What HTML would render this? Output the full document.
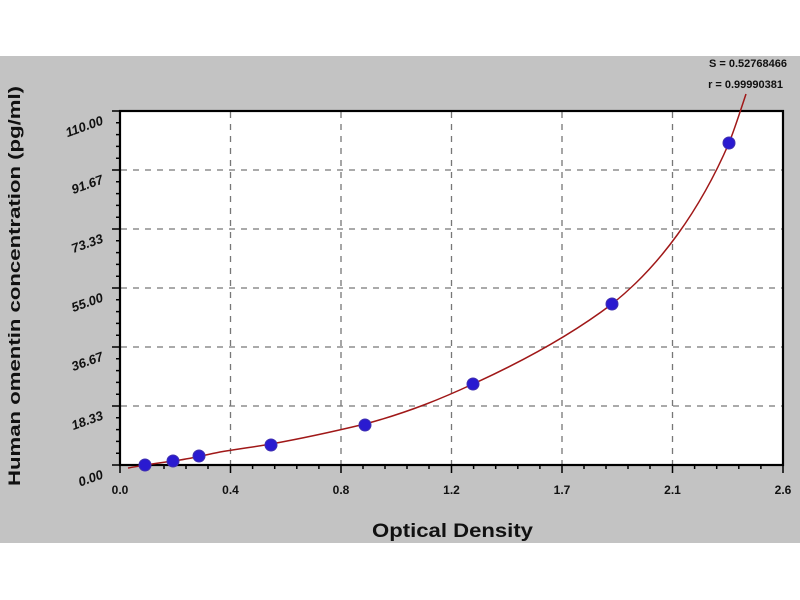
<!DOCTYPE html>
<html><head><style>
body{margin:0;background:#fff;}
svg{display:block;}
text{font-family:"Liberation Sans",sans-serif;font-weight:bold;fill:#111;}
</style></head><body>
<svg width="800" height="600" viewBox="0 0 800 600">
<rect x="0" y="0" width="800" height="600" fill="#fff"/>
<rect x="0" y="56" width="800" height="487" fill="#c3c3c3"/>
<rect x="120" y="111" width="663" height="354" fill="#fff"/>
<g stroke="#777" stroke-width="1.3" stroke-dasharray="6,6">
<line x1="230.5" y1="112" x2="230.5" y2="464"/>
<line x1="341" y1="112" x2="341" y2="464"/>
<line x1="451.5" y1="112" x2="451.5" y2="464"/>
<line x1="562" y1="112" x2="562" y2="464"/>
<line x1="672.5" y1="112" x2="672.5" y2="464"/>
<line x1="121" y1="170" x2="782" y2="170"/>
<line x1="121" y1="229" x2="782" y2="229"/>
<line x1="121" y1="288" x2="782" y2="288"/>
<line x1="121" y1="347" x2="782" y2="347"/>
<line x1="121" y1="406" x2="782" y2="406"/>
</g>
<g stroke="#000" stroke-width="1.5">
<path d="M112 111H120M116 122.8H120M116 134.6H120M116 146.4H120M116 158.2H120M112 170H120M116 181.8H120M116 193.6H120M116 205.4H120M116 217.2H120M112 229H120M116 240.8H120M116 252.6H120M116 264.4H120M116 276.2H120M112 288H120M116 299.8H120M116 311.6H120M116 323.4H120M116 335.2H120M112 347H120M116 358.8H120M116 370.6H120M116 382.4H120M116 394.2H120M112 406H120M116 417.8H120M116 429.6H120M116 441.4H120M116 453.2H120M112 465H120"/>
<path d="M120 465V473M142 465V469M164 465V469M186 465V469M208 465V469M230.5 465V473M252.6 465V469M274.7 465V469M296.8 465V469M318.9 465V469M341 465V473M363 465V469M385 465V469M407 465V469M429 465V469M451.5 465V473M473.6 465V469M495.7 465V469M517.8 465V469M539.9 465V469M562 465V473M584 465V469M606 465V469M628 465V469M650 465V469M672.5 465V473M694.6 465V469M716.7 465V469M738.8 465V469M760.9 465V469M783 465V473"/>
</g>
<rect x="120" y="111" width="663" height="354" fill="none" stroke="#000" stroke-width="2.2"/>
<path d="M128 468 C140 466 150 464 173 461 C190 459 200 456 220 452 C245 448 260 446 271 444 C310 437 340 430 365 424 C410 412 445 397 473 384 C530 358 575 332 612 304 C660 266 700 210 729 143 C735 128 740 112 746 94" fill="none" stroke="#a01818" stroke-width="1.5"/>
<g fill="#2a1ad0" stroke="#4030b0" stroke-width="1">
<circle cx="145" cy="465" r="6"/>
<circle cx="173" cy="461" r="6"/>
<circle cx="199" cy="456" r="6"/>
<circle cx="271" cy="445" r="6"/>
<circle cx="365" cy="425" r="6"/>
<circle cx="473" cy="384" r="6"/>
<circle cx="612" cy="304" r="6"/>
<circle cx="729" cy="143" r="6"/>
</g>
<g font-size="13" font-style="italic" font-weight="normal">
<text transform="translate(104,124) rotate(-20)" text-anchor="end">110.00</text>
<text transform="translate(104,183) rotate(-20)" text-anchor="end">91.67</text>
<text transform="translate(104,242) rotate(-20)" text-anchor="end">73.33</text>
<text transform="translate(104,301) rotate(-20)" text-anchor="end">55.00</text>
<text transform="translate(104,360) rotate(-20)" text-anchor="end">36.67</text>
<text transform="translate(104,419) rotate(-20)" text-anchor="end">18.33</text>
<text transform="translate(104,478) rotate(-20)" text-anchor="end">0.00</text>
</g>
<g font-size="12" text-anchor="middle">
<text x="120" y="494">0.0</text>
<text x="230.5" y="494">0.4</text>
<text x="341" y="494">0.8</text>
<text x="451.5" y="494">1.2</text>
<text x="562" y="494">1.7</text>
<text x="672.5" y="494">2.1</text>
<text x="783" y="494">2.6</text>
</g>
<text x="372" y="537" font-size="19" font-weight="normal" textLength="161" lengthAdjust="spacingAndGlyphs">Optical Density</text>
<text transform="translate(20,486) rotate(-90)" font-size="17" font-weight="normal" textLength="400" lengthAdjust="spacingAndGlyphs">Human omentin concentration (pg/ml)</text>
<text x="787" y="67" font-size="11" text-anchor="end">S = 0.52768466</text>
<text x="783" y="88" font-size="11" text-anchor="end">r = 0.99990381</text>
</svg>
</body></html>
